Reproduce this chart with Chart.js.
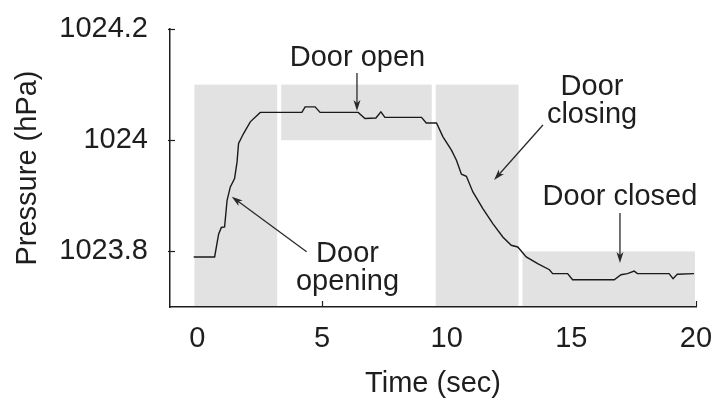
<!DOCTYPE html>
<html>
<head>
<meta charset="utf-8">
<script src="https://cdn.jsdelivr.net/npm/chart.js@4.4.0/dist/chart.umd.min.js"></script>
<style>
  html, body { margin: 0; padding: 0; background: #fff; }
  #wrap { width: 718px; height: 398px; }
</style>
</head>
<body>
<div id="wrap"><canvas id="myChart"></canvas></div>
<script>
// pressure trace while the door opens and closes
var timeSec = [-0.15, 0.69, 0.85, 0.96, 1.09, 1.19, 1.32, 1.49, 1.59, 1.65, 1.85, 2.12, 2.52,
    4.19, 4.32, 4.72, 4.92, 6.45, 6.72, 7.16, 7.36, 7.52, 8.99, 9.18, 9.59,
    9.85, 10.19, 10.39, 10.59, 10.79, 11.05, 11.45, 11.85, 12.25, 12.59, 12.85,
    13.19, 13.65, 14.12, 14.25, 14.85, 15.05, 16.72, 16.99, 17.25, 17.52, 17.65,
    18.92, 19.08, 19.25, 19.92];
var pressureHpa = [1023.790, 1023.790, 1023.831, 1023.843, 1023.844, 1023.892, 1023.916, 1023.931, 1023.961, 1023.994, 1024.012, 1024.033, 1024.050,
    1024.050, 1024.060, 1024.060, 1024.050, 1024.050, 1024.039, 1024.040, 1024.051, 1024.041, 1024.041, 1024.031, 1024.031,
    1024.006, 1023.982, 1023.964, 1023.939, 1023.935, 1023.907, 1023.877, 1023.850, 1023.826, 1023.811, 1023.808,
    1023.790, 1023.778, 1023.767, 1023.760, 1023.760, 1023.749, 1023.749, 1023.758, 1023.760, 1023.7645, 1023.760,
    1023.760, 1023.751, 1023.759, 1023.760];

var xTicks = [0, 5, 10, 15, 20];
var yTicks = [1023.8, 1024, 1024.2];
var yTickLabels = ['1023.8', '1024', '1024.2'];

// shaded phases: opening, open, closing, closed
var phaseFrom = [-0.12, 3.36, 9.56, 13.04];
var phaseTo = [3.2, 9.4, 12.88, 19.96];
var phaseLow = [1023.7, 1024.0, 1023.7, 1023.7];
var phaseHigh = [1024.1, 1024.1, 1024.1, 1023.8];

// callout text (baseline of first line) and arrows
var noteText = [['Door open'], ['Door', 'closing'], ['Door closed'], ['Door', 'opening']];
var noteX = [6.42, 15.83, 16.95, 6.02];
var noteY = [1024.1335, 1024.0813, 1023.8835, 1023.781];
var arrowFromX = [6.40, 13.86, 16.95, 4.38];
var arrowFromY = [1024.121, 1024.0273, 1023.869, 1023.7995];
var arrowToX = [6.40, 11.90, 16.95, 1.376];
var arrowToY = [1024.0525, 1023.9284, 1023.779, 1023.8984];

var fontFamily = '"Liberation Sans", Arial, Helvetica, sans-serif';
var fontSize = 29;
var inkColor = '#1e1e1e';

function drawArrow(ctx, x1, y1, x2, y2) {
    var ang = Math.atan2(y2 - y1, x2 - x1);
    var len = 11, half = 3.5;
    ctx.beginPath();
    ctx.moveTo(x1, y1);
    ctx.lineTo(x2 - Math.cos(ang) * 4, y2 - Math.sin(ang) * 4);
    ctx.stroke();
    ctx.beginPath();
    ctx.moveTo(x2, y2);
    ctx.lineTo(x2 - Math.cos(ang) * len - Math.sin(ang) * half, y2 - Math.sin(ang) * len + Math.cos(ang) * half);
    ctx.lineTo(x2 - Math.cos(ang) * (len - 3), y2 - Math.sin(ang) * (len - 3));
    ctx.lineTo(x2 - Math.cos(ang) * len + Math.sin(ang) * half, y2 - Math.sin(ang) * len - Math.cos(ang) * half);
    ctx.closePath();
    ctx.fill();
}

var phasePlugin = {
    id: 'phases',
    beforeDatasetsDraw: function (chart) {
        var ctx = chart.ctx;
        var xs = chart.scales.x, ys = chart.scales.y;
        var area = chart.chartArea;
        ctx.save();
        // short inward tick marks
        ctx.strokeStyle = inkColor;
        ctx.lineWidth = 1.2;
        xTicks.forEach(function (v) {
            var px = Math.round(xs.getPixelForValue(v)) + 0.5;
            ctx.beginPath();
            ctx.moveTo(px, area.bottom);
            ctx.lineTo(px, area.bottom - 6);
            ctx.stroke();
        });
        yTicks.forEach(function (v) {
            var py = Math.round(ys.getPixelForValue(v)) + 0.5;
            ctx.beginPath();
            ctx.moveTo(area.left - 2, py);
            ctx.lineTo(area.left + 5, py);
            ctx.stroke();
        });
        ctx.fillStyle = '#e2e2e2';
        for (var i = 0; i < phaseFrom.length; i++) {
            var x1 = xs.getPixelForValue(phaseFrom[i]);
            var x2 = xs.getPixelForValue(phaseTo[i]);
            var y1 = ys.getPixelForValue(phaseHigh[i]);
            var y2 = ys.getPixelForValue(phaseLow[i]);
            ctx.fillRect(x1, y1, x2 - x1, y2 - y1);
        }
        ctx.restore();
    },
    afterDatasetsDraw: function (chart) {
        var ctx = chart.ctx;
        var xs = chart.scales.x, ys = chart.scales.y;
        ctx.save();
        ctx.fillStyle = inkColor;
        ctx.font = fontSize + 'px ' + fontFamily;
        ctx.textAlign = 'center';
        ctx.textBaseline = 'alphabetic';
        noteText.forEach(function (lines, i) {
            var px = xs.getPixelForValue(noteX[i]);
            var py = ys.getPixelForValue(noteY[i]);
            lines.forEach(function (t, k) {
                ctx.fillText(t, px, py + k * 28);
            });
        });
        ctx.strokeStyle = '#2a2a2a';
        ctx.fillStyle = '#2a2a2a';
        ctx.lineWidth = 1.3;
        for (var i = 0; i < arrowFromX.length; i++) {
            drawArrow(ctx,
                xs.getPixelForValue(arrowFromX[i]), ys.getPixelForValue(arrowFromY[i]),
                xs.getPixelForValue(arrowToX[i]), ys.getPixelForValue(arrowToY[i]));
        }
        ctx.restore();
    }
};

// keep the plot box fixed: no extra room for edge labels
function noEdgePadding(scale) {
    scale.paddingTop = 0;
    scale.paddingBottom = 0;
    scale.paddingLeft = 0;
    scale.paddingRight = 0;
}

var points = timeSec.map(function (t, i) { return { x: t, y: pressureHpa[i] }; });

var ctx = document.getElementById('myChart').getContext('2d');
var myChart = new Chart(ctx, {
    type: 'line',
    data: {
        datasets: [{
            data: points,
            borderColor: '#1a1a1a',
            borderWidth: 1.4,
            pointRadius: 0,
            tension: 0,
            fill: false
        }]
    },
    options: {
        responsive: true,
        maintainAspectRatio: false,
        animation: false,
        layout: { padding: { top: 29, right: 22, left: 0, bottom: 0 } },
        plugins: {
            legend: { display: false },
            tooltip: { enabled: false }
        },
        scales: {
            x: {
                type: 'linear',
                min: -1.1,
                max: 20,
                afterBuildTicks: function (scale) {
                    scale.ticks = xTicks.map(function (v) { return { value: v }; });
                },
                afterFit: function (scale) { scale.height = 91; noEdgePadding(scale); },
                grid: { display: false, drawTicks: false },
                border: { display: true, color: inkColor, width: 1.5, z: 1 },
                ticks: {
                    color: inkColor,
                    padding: 15,
                    maxRotation: 0,
                    font: { family: fontFamily, size: fontSize },
                    callback: function (v) { return String(v); }
                },
                title: {
                    display: true,
                    text: 'Time (sec)',
                    color: inkColor,
                    padding: { top: 0, bottom: -3 },
                    font: { family: fontFamily, size: fontSize }
                }
            },
            y: {
                type: 'linear',
                min: 1023.7,
                max: 1024.2,
                afterBuildTicks: function (scale) {
                    scale.ticks = yTicks.map(function (v) { return { value: v }; });
                },
                afterFit: function (scale) { scale.width = 170; noEdgePadding(scale); },
                grid: { display: false, drawTicks: false },
                border: { display: true, color: inkColor, width: 1.5, z: 1 },
                ticks: {
                    color: inkColor,
                    padding: 22,
                    font: { family: fontFamily, size: fontSize },
                    callback: function (v, i) { return yTickLabels[i]; }
                },
                title: {
                    display: true,
                    text: 'Pressure (hPa)',
                    color: inkColor,
                    padding: { top: 11, bottom: 0 },
                    font: { family: fontFamily, size: fontSize }
                }
            }
        }
    },
    plugins: [phasePlugin]
});
</script>
</body>
</html>
